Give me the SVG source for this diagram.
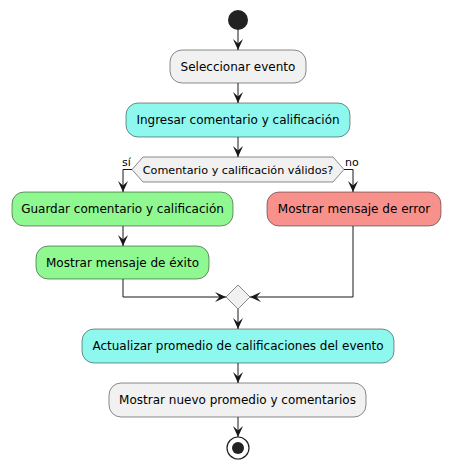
<svg xmlns="http://www.w3.org/2000/svg" width="450" height="469" viewBox="0 0 450 469">
<defs>
<style>
.act{stroke:#181818;stroke-width:0.5}
.gray{fill:#F1F1F1}
.cyan{fill:#8FF8EE}
.green{fill:#8FF890}
.red{fill:#F8918C}
text{font-family:"DejaVu Sans",sans-serif;font-size:12px;fill:#000}
.lbl{font-size:11px}
.edge{fill:none;stroke:#181818;stroke-width:1}
</style>
<marker id="ah" viewBox="0 0 11 11" refX="11" refY="5.5" markerWidth="11" markerHeight="11" markerUnits="userSpaceOnUse" orient="auto">
<path d="M0,0.5 L11,5.5 L0,10.5 L4.5,5.5 Z" fill="#181818"/>
</marker>
</defs>
<rect width="450" height="469" fill="#FFFFFF"/>
<g id="start"><circle cx="238" cy="20" r="10" fill="#222222"/></g>
<g id="n1"><rect class="act gray" x="170" y="50" width="136" height="33" rx="12"/><text x="238" y="71" text-anchor="middle">Seleccionar evento</text></g>
<g id="n2"><rect class="act cyan" x="126" y="103" width="224" height="34" rx="12"/><text x="238" y="124" text-anchor="middle">Ingresar comentario y calificación</text></g>
<g id="d1"><polygon class="act gray" points="132,169.5 143,157 333,157 344,169.5 333,182 143,182"/><text x="238" y="174" text-anchor="middle" style="font-size:11.2px">Comentario y calificación válidos?</text></g>
<g id="n3"><rect class="act green" x="12" y="192" width="221" height="34" rx="12"/><text x="122.5" y="213" text-anchor="middle">Guardar comentario y calificación</text></g>
<g id="n4"><rect class="act green" x="36" y="246" width="173" height="33" rx="12"/><text x="122.5" y="267" text-anchor="middle">Mostrar mensaje de éxito</text></g>
<g id="n5"><rect class="act red" x="267" y="192" width="174" height="34" rx="12"/><text x="354" y="213" text-anchor="middle">Mostrar mensaje de error</text></g>
<g id="m1"><polygon class="act gray" points="238,285 250,297 238,309 226,297"/></g>
<g id="n6"><rect class="act cyan" x="82" y="329" width="312" height="34" rx="12"/><text x="238" y="350" text-anchor="middle">Actualizar promedio de calificaciones del evento</text></g>
<g id="n7"><rect class="act gray" x="109" y="383" width="257" height="34" rx="12"/><text x="237.5" y="404" text-anchor="middle">Mostrar nuevo promedio y comentarios</text></g>
<g id="end"><circle cx="238" cy="448" r="11" fill="none" stroke="#222222" stroke-width="1.2"/><circle cx="238" cy="448" r="6" fill="#222222"/></g>
<g id="connectors">
<path class="edge" d="M238,30 L238,50" marker-end="url(#ah)"/>
<path class="edge" d="M238,83 L238,103" marker-end="url(#ah)"/>
<path class="edge" d="M238,137 L238,157" marker-end="url(#ah)"/>
<path class="edge" d="M132,169.5 L123,169.5 L123,192" marker-end="url(#ah)"/>
<text class="lbl" x="122" y="166">sí</text>
<path class="edge" d="M344,169.5 L353,169.5 L353,192" marker-end="url(#ah)"/>
<text class="lbl" x="345" y="166">no</text>
<path class="edge" d="M123,226 L123,246" marker-end="url(#ah)"/>
<path class="edge" d="M123,279 L123,297 L226,297" marker-end="url(#ah)"/>
<path class="edge" d="M353,226 L353,297 L250,297" marker-end="url(#ah)"/>
<path class="edge" d="M238,309 L238,329" marker-end="url(#ah)"/>
<path class="edge" d="M238,363 L238,383" marker-end="url(#ah)"/>
<path class="edge" d="M238,417 L238,437" marker-end="url(#ah)"/>
</g>
</svg>
